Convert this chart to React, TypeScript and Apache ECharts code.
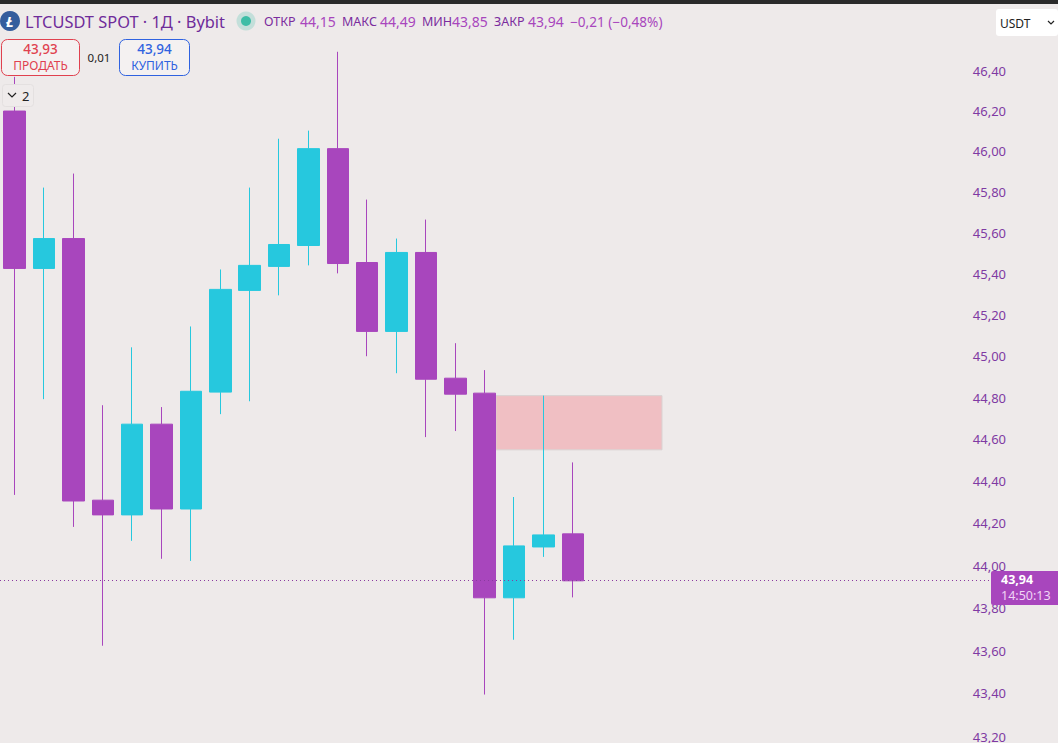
import React, { useEffect, useRef } from "react";
import * as echarts from "echarts";

const opens = [46.2, 45.426, 45.572, 44.31, 44.24, 44.673, 44.268, 44.827, 45.319, 45.436, 45.538, 46.014, 45.455, 45.12, 45.504, 44.894, 44.822, 43.848, 44.088, 44.15];
const closes = [45.426, 45.572, 44.306, 44.24, 44.673, 44.268, 44.831, 45.324, 45.441, 45.543, 46.014, 45.45, 45.12, 45.504, 44.889, 44.817, 43.848, 44.093, 44.145, 43.928];
const lows = [44.335, 44.793, 44.183, 43.623, 44.117, 44.032, 44.022, 44.721, 44.783, 45.295, 45.441, 45.402, 45.0, 44.918, 44.611, 44.64, 43.395, 43.651, 44.041, 43.85];
const highs = [46.37, 45.822, 45.891, 44.764, 45.043, 44.755, 45.144, 45.421, 45.822, 46.063, 46.103, 46.495, 45.763, 45.572, 45.665, 45.063, 44.933, 44.325, 44.81, 44.49];
const blankSlots = 14;
const tickValues = [43.2, 43.4, 43.6, 43.8, 44.0, 44.2, 44.4, 44.6, 44.8, 45.0, 45.2, 45.4, 45.6, 45.8, 46.0, 46.2, 46.4];
const lastPrice = 43.928;
const zoneTop = 44.81;
const zoneBottom = 44.55;
const ohlcLabels = [
  ["ОТКР", "44,15", 264, 300],
  ["МАКС", "44,49", 342, 380],
  ["МИН", "43,85", 422, 452],
  ["ЗАКР", "43,94", 494, 528],
];

const PURPLE = "#a846bd";
const CYAN = "#26c8de";
const FONT = "'Noto Sans', Tahoma, sans-serif";

export default function App() {
  const ref = useRef<HTMLDivElement>(null);
  useEffect(() => {
    document.body.style.margin = "0";
    const chart = echarts.init(ref.current!, null, { renderer: "svg" });
    const categories = [...opens, ...Array(blankSlots).fill(null)].map((_, i) => String(i));
    const txt = (text: string, x: number, y: number, fontSize: number, fill: string, extra: any = {}) => ({
      type: "text",
      x,
      y,
      z: 20,
      style: { text, fontSize, fill, fontFamily: FONT, verticalAlign: "middle", ...extra },
    });
    const ohlc: any[] = [];
    ohlcLabels.forEach(([l, v, lx, vx]) => {
      ohlc.push(txt(l as string, lx as number, 21, 12.5, "#7b2d9e"));
      ohlc.push(txt(v as string, vx as number, 21, 14, PURPLE));
    });
    chart.setOption({
      animation: false,
      backgroundColor: "#eeeaea",
      grid: { left: -2.5, top: 5, width: 1001.3, height: 739 },
      xAxis: {
        type: "category",
        data: categories,
        show: false,
        boundaryGap: true,
      },
      yAxis: {
        type: "log",
        logBase: 10,
        position: "right",
        min: 43.172,
        max: 46.729,
        splitLine: { show: false },
        axisLine: { show: false },
        axisTick: { show: false },
        axisLabel: {
          customValues: tickValues,
          margin: -26,
          color: "#7f3aa3",
          fontSize: 13,
          fontFamily: FONT,
          formatter: (v: number) => v.toFixed(2).replace(".", ","),
        },
      },
      series: [
        {
          type: "candlestick",
          barWidth: 22,
          data: opens.map((o, i) => [o, closes[i], lows[i], highs[i]]),
          itemStyle: {
            color: CYAN,
            color0: PURPLE,
            borderColor: CYAN,
            borderColor0: PURPLE,
            borderWidth: 1,
          },
          markArea: {
            silent: true,
            itemStyle: { color: "#f0bfc3", borderColor: "#d9d2d2", borderWidth: 1 },
            data: [[{ x: 496, yAxis: zoneTop }, { x: 662, yAxis: zoneBottom }]],
          },
          markLine: {
            silent: true,
            symbol: "none",
            label: { show: false },
            lineStyle: { color: "#8a3aa0", type: [1, 3], width: 1 },
            data: [{ yAxis: lastPrice }],
          },
        },
      ],
      graphic: [
        { type: "rect", shape: { x: 0, y: 0, width: 1058, height: 4 }, style: { fill: "#2a2a2a" }, z: 20 },
        { type: "circle", shape: { cx: 10, cy: 21, r: 10 }, style: { fill: "#345d9d" }, z: 20 },
        txt("Ł", 10, 21, 15, "#ffffff", { align: "center", fontWeight: "bold", fontStyle: "italic" }),
        txt("LTCUSDT SPOT · 1Д · Bybit", 25, 21, 16.4, "#6f2c9a"),
        { type: "circle", shape: { cx: 246, cy: 21, r: 9.5 }, style: { fill: "#c3dfda" }, z: 20 },
        { type: "circle", shape: { cx: 246, cy: 21, r: 5 }, style: { fill: "#3dbda6" }, z: 20 },
        ...ohlc,
        txt("−0,21 (−0,48%)", 570, 21, 13.6, PURPLE),
        { type: "rect", shape: { x: 1.5, y: 39.5, width: 78, height: 36, r: 6 }, style: { fill: "#f4f1f1", stroke: "#e0414f", lineWidth: 1 }, z: 20 },
        txt("43,93", 40.5, 49, 13.5, "#e0414f", { align: "center", fontWeight: 500 }),
        txt("ПРОДАТЬ", 40.5, 65.5, 12, "#e0414f", { align: "center" }),
        txt("0,01", 99, 57, 11.5, "#222222", { align: "center" }),
        { type: "rect", shape: { x: 119.5, y: 39.5, width: 70, height: 36, r: 6 }, style: { fill: "#f4f1f1", stroke: "#2f62e0", lineWidth: 1 }, z: 20 },
        txt("43,94", 154.5, 49, 13.5, "#2f62e0", { align: "center", fontWeight: 500 }),
        txt("КУПИТЬ", 154.5, 65.5, 12, "#2f62e0", { align: "center" }),
        { type: "rect", shape: { x: 2.5, y: 84.5, width: 31, height: 22, r: 3 }, style: { fill: "#efebeb", stroke: "#e4e0e0", lineWidth: 1 }, z: 20 },
        { type: "polyline", shape: { points: [[8, 93], [12, 97], [16, 93]] }, style: { stroke: "#222222", lineWidth: 1.2, fill: "none" }, z: 21 },
        txt("2", 22, 96, 13, "#222222"),
        { type: "rect", shape: { x: 996, y: 9, width: 62, height: 27, r: 3 }, style: { fill: "#ffffff" }, z: 20 },
        txt("USDT", 1000, 23, 12, "#222222"),
        { type: "polyline", shape: { points: [[1048, 21], [1051, 24], [1054, 21]] }, style: { stroke: "#222222", lineWidth: 1.2, fill: "none" }, z: 21 },
        { type: "rect", shape: { x: 991, y: 571, width: 67, height: 34, r: [2, 0, 0, 2] }, style: { fill: PURPLE }, z: 20 },
        txt("43,94", 1001, 579.5, 12.5, "#ffffff", { fontWeight: "bold" }),
        txt("14:50:13", 1001, 595.5, 12.5, "#f0d5f5"),
      ],
    });
    return () => chart.dispose();
  }, []);
  return <div ref={ref} style={{ width: 1058, height: 743 }} />;
}
